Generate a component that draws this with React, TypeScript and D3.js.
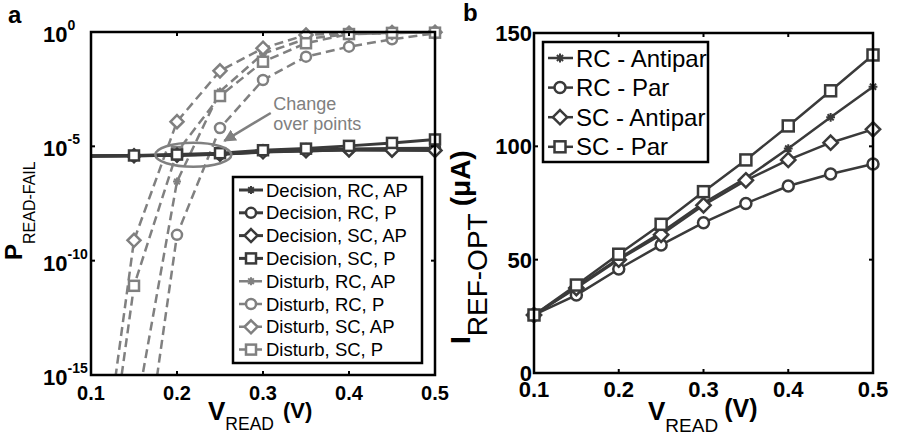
import * as d3 from "d3";

const vRead = [0.1, 0.15, 0.2, 0.25, 0.3, 0.35, 0.4, 0.45, 0.5];
const vTicks = [0.1, 0.2, 0.3, 0.4, 0.5];

// panel a: log10 of P_READ-FAIL
const decisionRcAp = [-5.42, -5.41, -5.39, -5.35, -5.25, -5.2, -5.15, -5.15, -5.15];
const decisionRcP = [-5.42, -5.41, -5.38, -5.34, -5.22, -5.17, -5.12, -5.1, -5.08];
const decisionScAp = [-5.42, -5.41, -5.39, -5.35, -5.24, -5.19, -5.16, -5.17, -5.18];
const decisionScP = [-5.42, -5.4, -5.36, -5.3, -5.17, -5.1, -4.98, -4.85, -4.7];
const disturbRcAp = [-30, -17.1, -6.54, -2.6, -0.95, -0.3, -0.1, -0.05, -0.02];
const disturbRcP = [-40, -22.2, -8.87, -4.2, -2.1, -1.08, -0.64, -0.32, -0.06];
const disturbScAp = [-23, -9.11, -3.92, -1.7, -0.71, -0.13, -0.05, -0.02, -0.01];
const disturbScP = [-24.7, -11.1, -5.25, -2.8, -1.3, -0.49, -0.09, -0.04, -0.03];
const failLegend = [
  "Decision, RC, AP",
  "Decision, RC, P",
  "Decision, SC, AP",
  "Decision, SC, P",
  "Disturb, RC, AP",
  "Disturb, RC, P",
  "Disturb, SC, AP",
  "Disturb, SC, P",
];
const failTicks = [0, -5, -10, -15];

// panel b: I_REF-OPT (uA)
const rcAntipar = [25.6, 38, 50.5, 62, 75, 86, 99, 112.8, 126.3];
const rcPar = [25.6, 34.4, 45.9, 56.5, 66.3, 74.8, 82.5, 87.8, 92.2];
const scAntipar = [25.6, 37.5, 50, 61, 74, 85, 94, 101.6, 107.5];
const scPar = [25.6, 38.8, 52.4, 65.6, 80, 94, 109, 124.5, 140.3];
const refLegend = ["RC - Antipar", "RC - Par", "SC - Antipar", "SC - Par"];
const refTicks = [0, 50, 100, 150];

const markers = ["star", "circle", "diamond", "square"];
const font = "'Liberation Sans', Arial, sans-serif";
const dark = "#3a3a3a";
const gray = "#808080";

const Marker = ({ type, x, y, s, color }) => {
  const common = { fill: "white", stroke: color, strokeWidth: 2.5 };
  if (type === "circle") return <circle cx={x} cy={y} r={s} {...common} />;
  if (type === "square")
    return <rect x={x - s} y={y - s} width={2 * s} height={2 * s} {...common} />;
  if (type === "diamond") {
    const d = s * 1.3;
    return (
      <path
        d={`M${x},${y - d}L${x + d},${y}L${x},${y + d}L${x - d},${y}Z`}
        {...common}
      />
    );
  }
  const a = s * 0.8;
  return (
    <path
      d={`M${x - a},${y}H${x + a}M${x},${y - a}V${y + a}M${x - a * 0.7},${y - a * 0.7}L${x + a * 0.7},${y + a * 0.7}M${x - a * 0.7},${y + a * 0.7}L${x + a * 0.7},${y - a * 0.7}`}
      stroke={color}
      strokeWidth={2}
      fill="none"
    />
  );
};

const Frame = ({ x, y }) => {
  const [x0, x1] = x.range();
  const [y0, y1] = y.range();
  return (
    <rect
      x={x0}
      y={y1}
      width={x1 - x0}
      height={y0 - y1}
      fill="none"
      stroke="black"
      strokeWidth={2.5}
    />
  );
};

const PanelA = () => {
  const x = d3.scaleLinear().domain([0.1, 0.5]).range([91, 435]);
  const y = d3.scaleLog().domain([1e-15, 1]).range([375, 32]);
  const p = (e) => Math.pow(10, e);
  const series = [
    decisionRcAp, decisionRcP, decisionScAp, decisionScP,
    disturbRcAp, disturbRcP, disturbScAp, disturbScP,
  ].map((vals, i) => ({
    vals,
    marker: markers[i % 4],
    color: i < 4 ? dark : gray,
    dash: i < 4 ? null : "9,5",
    width: i < 4 ? 3 : 2.5,
  }));
  const line = d3
    .line()
    .x((d) => x(d[0]))
    .y((d) => y(p(d[1])));
  const order = [4, 5, 6, 7, 0, 1, 2, 3];
  const ell = { v: 0.219, e: -5.37 };
  return (
    <g>
      <defs>
        <clipPath id="clipA">
          <rect x={91} y={20} width={344} height={355} />
        </clipPath>
        <marker
          id="arrowA"
          viewBox="0 0 10 10"
          refX="9"
          refY="5"
          markerWidth="5"
          markerHeight="5"
          orient="auto"
        >
          <path d="M0,0L10,5L0,10Z" fill={gray} />
        </marker>
      </defs>
      {order.map((i) => {
        const s = series[i];
        return (
          <g key={i}>
            <path
              d={line(vRead.map((v, j) => [v, s.vals[j]]))}
              fill="none"
              stroke={s.color}
              strokeWidth={s.width}
              strokeDasharray={s.dash}
              clipPath="url(#clipA)"
            />
            {vRead.map((v, j) =>
              v > 0.1 && s.vals[j] >= -15 ? (
                <Marker
                  key={j}
                  type={s.marker}
                  x={x(v)}
                  y={y(p(s.vals[j]))}
                  s={5}
                  color={s.color}
                />
              ) : null
            )}
          </g>
        );
      })}
      <ellipse
        cx={x(ell.v)}
        cy={y(p(ell.e))}
        rx={38}
        ry={12}
        fill="none"
        stroke={gray}
        strokeWidth={2.5}
      />
      <line
        x1={x(0.309)}
        y1={y(p(-3.54))}
        x2={x(0.255)}
        y2={y(p(-4.76))}
        stroke={gray}
        strokeWidth={2.5}
        markerEnd="url(#arrowA)"
      />
      <text x={x(0.312)} y={y(p(-3.41))} fontFamily={font} fontSize={18} fill={gray}>
        Change
      </text>
      <text x={x(0.312)} y={y(p(-4.28))} fontFamily={font} fontSize={18} fill={gray}>
        over points
      </text>
      <Frame x={x} y={y} />
      {vTicks.map((v) => (
        <g key={v}>
          <line x1={x(v)} x2={x(v)} y1={375} y2={371} stroke="black" strokeWidth={2} />
          <line x1={x(v)} x2={x(v)} y1={32} y2={36} stroke="black" strokeWidth={2} />
          <text
            x={x(v)}
            y={400}
            textAnchor="middle"
            fontFamily={font}
            fontWeight="bold"
            fontSize={20}
          >
            {v}
          </text>
        </g>
      ))}
      {failTicks.map((e) => (
        <g key={e}>
          <line x1={91} x2={95} y1={y(p(e))} y2={y(p(e))} stroke="black" strokeWidth={2} />
          <line x1={435} x2={431} y1={y(p(e))} y2={y(p(e))} stroke="black" strokeWidth={2} />
          <text x={43} y={y(p(e)) + 10} fontFamily={font} fontWeight="bold" fontSize={22}>
            10
            <tspan dy={-12} fontSize={14}>
              {e}
            </tspan>
          </text>
        </g>
      ))}
      <rect x={233} y={177} width={189} height={186} fill="white" stroke="black" strokeWidth={2.5} />
      {failLegend.map((t, i) => {
        const s = series[i];
        const cy = 190 + i * 22.8;
        return (
          <g key={t}>
            <line
              x1={239}
              x2={263}
              y1={cy}
              y2={cy}
              stroke={s.color}
              strokeWidth={s.width}
              strokeDasharray={s.dash}
            />
            <Marker type={s.marker} x={251} y={cy} s={5} color={s.color} />
            <text x={266} y={cy + 6.5} fontFamily={font} fontSize={18.5}>
              {t}
            </text>
          </g>
        );
      })}
      <text x={8} y={23} fontFamily={font} fontWeight="bold" fontSize={24}>
        a
      </text>
      <text fontFamily={font} fontWeight="bold" fontSize={26} x={208} y={420}>
        V
        <tspan fontSize={17.5} fontWeight="normal" dy={10}>
          READ
        </tspan>
        <tspan fontSize={22} dy={-12} dx={9}>
          (V)
        </tspan>
      </text>
      <text
        transform="translate(22,260) rotate(-90)"
        fontFamily={font}
        fontWeight="bold"
        fontSize={24}
      >
        P
        <tspan fontSize={16} fontWeight="normal" dy={13}>
          READ-FAIL
        </tspan>
      </text>
    </g>
  );
};

const PanelB = () => {
  const x = d3.scaleLinear().domain([0.1, 0.5]).range([534, 873]);
  const y = d3.scaleLinear().domain([0, 150]).range([373, 33]);
  const series = [rcAntipar, rcPar, scAntipar, scPar];
  const line = d3
    .line()
    .x((d) => x(d[0]))
    .y((d) => y(d[1]));
  return (
    <g>
      {series.map((vals, i) => (
        <g key={i}>
          <path
            d={line(vRead.map((v, j) => [v, vals[j]]))}
            fill="none"
            stroke={dark}
            strokeWidth={2.5}
          />
          {vRead.map((v, j) => (
            <Marker
              key={j}
              type={markers[i]}
              x={x(v)}
              y={y(vals[j])}
              s={5.5}
              color={dark}
            />
          ))}
        </g>
      ))}
      <Frame x={x} y={y} />
      {vTicks.map((v) => (
        <g key={v}>
          <line x1={x(v)} x2={x(v)} y1={373} y2={369} stroke="black" strokeWidth={2} />
          <line x1={x(v)} x2={x(v)} y1={33} y2={37} stroke="black" strokeWidth={2} />
          <text
            x={x(v)}
            y={397}
            textAnchor="middle"
            fontFamily={font}
            fontWeight="bold"
            fontSize={22}
          >
            {v}
          </text>
        </g>
      ))}
      {refTicks.map((t) => (
        <g key={t}>
          <line x1={534} x2={538} y1={y(t)} y2={y(t)} stroke="black" strokeWidth={2} />
          <line x1={873} x2={869} y1={y(t)} y2={y(t)} stroke="black" strokeWidth={2} />
          <text
            x={532}
            y={y(t) + 8}
            textAnchor="end"
            fontFamily={font}
            fontWeight="bold"
            fontSize={22}
          >
            {t}
          </text>
        </g>
      ))}
      <rect x={543} y={42} width={165} height={120} fill="white" stroke="black" strokeWidth={2.5} />
      {refLegend.map((t, i) => {
        const cy = 58 + i * 29.6;
        return (
          <g key={t}>
            <line x1={548} x2={573} y1={cy} y2={cy} stroke={dark} strokeWidth={2.5} />
            <Marker type={markers[i]} x={560} y={cy} s={5.5} color={dark} />
            <text x={576} y={cy + 8.5} fontFamily={font} fontSize={24}>
              {t}
            </text>
          </g>
        );
      })}
      <text x={463} y={21} fontFamily={font} fontWeight="bold" fontSize={24}>
        b
      </text>
      <text fontFamily={font} fontWeight="bold" fontSize={26} x={648} y={420}>
        V
        <tspan fontSize={19} fontWeight="normal" dy={12}>
          READ
        </tspan>
        <tspan fontSize={25} dy={-15} dx={6}>
          (V)
        </tspan>
      </text>
      <text
        transform="translate(470,344) rotate(-90)"
        fontFamily={font}
        fontWeight="bold"
        fontSize={28}
      >
        I
        <tspan fontSize={28} fontWeight="normal" dy={17}>
          REF-OPT
        </tspan>
        <tspan fontSize={28} dy={-17} dx={7}>
          (μA)
        </tspan>
      </text>
    </g>
  );
};

export default function App() {
  return (
    <svg
      width={898}
      height={435}
      style={{ position: "absolute", left: 0, top: 0, background: "white" }}
    >
      <PanelA />
      <PanelB />
    </svg>
  );
}
